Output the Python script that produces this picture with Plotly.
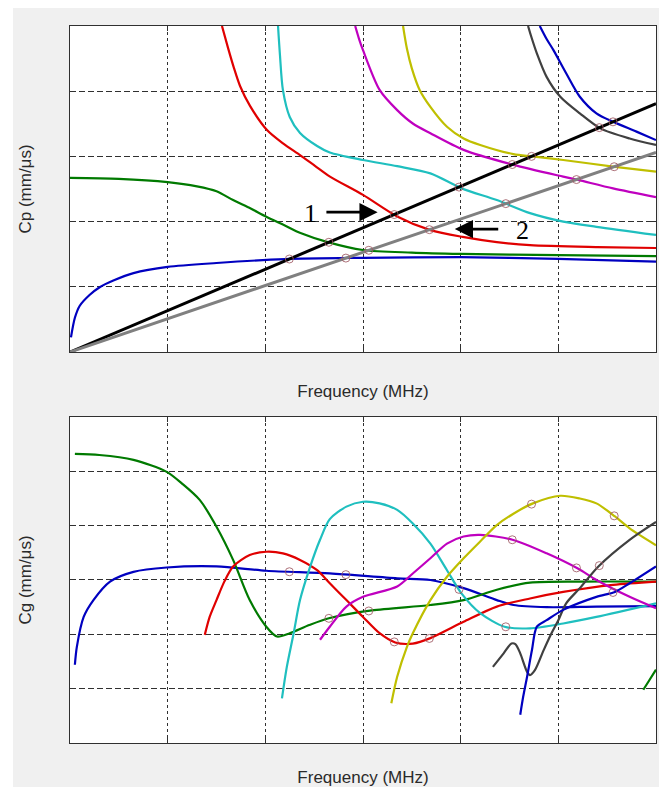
import numpy as np
import plotly.graph_objects as go

# ---------------------------------------------------------------------------
# Axis extents: frequency in MHz, velocities in mm/us
# ---------------------------------------------------------------------------
F_RANGE = [0.0, 6.0]
CP_RANGE = [0.0, 10.0]
CG_RANGE = [0.0, 6.0]

# Constant-wavelength lines, Cp = f * lambda (lambda in mm)
line_lambdas = [1.27, 1.02]
line_colors = ["#000000", "#808080"]

# ---------------------------------------------------------------------------
# Phase velocity branches (top panel)
# ---------------------------------------------------------------------------
m1_cp_f = [0.01, 0.05, 0.1, 0.2, 0.3, 0.45, 0.65, 1.0, 1.5, 2.2, 3.0, 4.0, 5.0, 6.0]
m1_cp = [0.45, 1.05, 1.42, 1.75, 1.98, 2.2, 2.42, 2.61, 2.73, 2.85, 2.89, 2.91, 2.86, 2.77]

m2_cp_f = [0.0, 0.5, 1.0, 1.3, 1.5, 1.67, 1.85, 2.01, 2.2, 2.36, 2.63, 3.0, 3.5, 4.0, 5.0, 6.0]
m2_cp = [5.34, 5.31, 5.21, 5.08, 4.93, 4.66, 4.40, 4.15, 3.88, 3.65, 3.38, 3.13, 3.05, 3.01, 2.97, 2.94]

m3_cp_f = [1.556, 1.618, 1.679, 1.741, 1.843, 2.017, 2.181, 2.355, 2.508, 2.662, 3.0, 3.35, 3.69, 4.02, 4.37, 4.71, 5.4, 6.0]
m3_cp = [10.0, 9.33, 8.71, 8.16, 7.55, 6.81, 6.40, 6.04, 5.71, 5.38, 4.82, 4.16, 3.74, 3.53, 3.37, 3.28, 3.22, 3.19]

m4_cp_f = [2.13, 2.15, 2.18, 2.25, 2.355, 2.53, 2.66, 3.0, 3.35, 3.69, 4.01, 4.37, 4.71, 5.05, 5.39, 6.0]
m4_cp = [10.0, 9.1, 8.04, 7.21, 6.72, 6.32, 6.12, 5.89, 5.70, 5.48, 5.02, 4.66, 4.26, 4.0, 3.84, 3.59]

m5_cp_f = [2.92, 2.96, 3.0, 3.17, 3.35, 3.51, 3.69, 4.03, 4.54, 5.05, 5.2, 5.56, 6.0]
m5_cp = [10.0, 9.6, 9.26, 8.04, 7.42, 7.01, 6.71, 6.20, 5.74, 5.38, 5.28, 5.02, 4.75]

m6_cp_f = [3.41, 3.45, 3.5, 3.58, 3.69, 3.86, 4.03, 4.2, 4.54, 4.73, 5.05, 5.58, 6.0]
m6_cp = [10.0, 9.3, 8.7, 8.04, 7.52, 6.91, 6.55, 6.35, 6.07, 6.0, 5.89, 5.68, 5.53]

m7_cp_f = [4.69, 4.72, 4.78, 4.88, 5.02, 5.22, 5.43, 5.73, 6.0]
m7_cp = [10.0, 9.7, 9.16, 8.44, 7.83, 7.32, 6.86, 6.55, 6.35]

m8_cp_f = [4.81, 4.88, 4.95, 5.08, 5.22, 5.39, 5.56, 5.8, 6.0]
m8_cp = [10.0, 9.6, 9.26, 8.55, 7.83, 7.32, 7.06, 6.76, 6.50]

# ---------------------------------------------------------------------------
# Group velocity branches (bottom panel)
# ---------------------------------------------------------------------------
m1_cg_f = [0.05, 0.07, 0.14, 0.24, 0.41, 0.65, 0.99, 1.5, 2.01, 2.66, 3.35, 3.69, 4.03, 4.37, 4.54, 4.88, 5.39, 6.0]
m1_cg = [1.44, 1.77, 2.32, 2.63, 2.97, 3.15, 3.23, 3.25, 3.17, 3.12, 3.03, 3.0, 2.85, 2.63, 2.54, 2.50, 2.51, 2.52]

m2_cg_f = [0.05, 0.3, 0.65, 0.99, 1.15, 1.33, 1.5, 1.67, 1.84, 2.01, 2.12, 2.25, 2.45, 2.66, 3.09, 3.69, 4.03, 4.37, 4.71, 5.22, 6.0]
m2_cg = [5.32, 5.30, 5.21, 4.99, 4.77, 4.47, 3.98, 3.37, 2.63, 2.14, 1.96, 2.02, 2.17, 2.30, 2.44, 2.54, 2.63, 2.82, 2.95, 2.97, 2.97]

m3_cg_f = [1.38, 1.43, 1.5, 1.58, 1.67, 1.84, 2.01, 2.18, 2.355, 2.53, 2.66, 2.83, 3.0, 3.17, 3.33, 3.51, 3.69, 4.03, 4.37, 4.71, 5.05, 5.56, 6.0]
m3_cg = [1.99, 2.32, 2.63, 2.97, 3.25, 3.46, 3.52, 3.49, 3.37, 3.18, 2.94, 2.63, 2.32, 2.02, 1.85, 1.83, 1.93, 2.23, 2.51, 2.66, 2.78, 2.91, 2.97]

m4_cg_f = [2.17, 2.22, 2.29, 2.355, 2.46, 2.56, 2.66, 2.83, 3.0, 3.17, 3.35, 3.51, 3.69, 3.86, 4.01, 4.2, 4.45, 4.71, 5.05, 5.39, 6.0]
m4_cg = [0.82, 1.40, 2.02, 2.63, 3.25, 3.74, 4.12, 4.35, 4.44, 4.41, 4.29, 4.04, 3.67, 3.18, 2.75, 2.39, 2.14, 2.11, 2.20, 2.32, 2.57]

m5_cg_f = [2.56, 2.66, 2.83, 3.0, 3.35, 3.51, 3.69, 3.86, 4.03, 4.2, 4.53, 4.88, 5.2, 5.39, 5.73, 6.0]
m5_cg = [1.90, 2.14, 2.51, 2.69, 2.88, 3.12, 3.40, 3.67, 3.80, 3.83, 3.74, 3.49, 3.21, 3.0, 2.69, 2.48]

m6_cg_f = [3.29, 3.35, 3.45, 3.51, 3.69, 3.86, 4.03, 4.2, 4.37, 4.54, 4.74, 5.02, 5.22, 5.39, 5.58, 5.73, 6.0]
m6_cg = [0.73, 1.22, 1.77, 2.02, 2.63, 3.06, 3.40, 3.71, 4.01, 4.22, 4.41, 4.55, 4.50, 4.41, 4.17, 3.95, 3.64]

m7_cg_f = [4.33, 4.44, 4.52, 4.56, 4.61, 4.68, 4.71, 4.76, 4.85, 4.93, 5.0, 5.08, 5.22, 5.41, 5.73, 6.0]
m7_cg = [1.40, 1.65, 1.83, 1.82, 1.65, 1.31, 1.25, 1.34, 1.71, 2.02, 2.26, 2.57, 2.85, 3.25, 3.74, 4.07]

m8_cg_f = [4.61, 4.64, 4.68, 4.73, 4.78, 4.88, 5.05, 5.39, 5.58, 5.73, 6.0]
m8_cg = [0.52, 0.85, 1.22, 1.71, 2.14, 2.26, 2.45, 2.69, 2.78, 2.94, 3.25]

m9_cg_f = [5.87, 5.93, 6.0]
m9_cg = [0.98, 1.15, 1.35]

modes = [
    dict(color="#0000c0", cp_f=m1_cp_f, cp=m1_cp, cg_f=m1_cg_f, cg=m1_cg),
    dict(color="#007a00", cp_f=m2_cp_f, cp=m2_cp, cg_f=m2_cg_f, cg=m2_cg),
    dict(color="#e00000", cp_f=m3_cp_f, cp=m3_cp, cg_f=m3_cg_f, cg=m3_cg),
    dict(color="#1fbfbf", cp_f=m4_cp_f, cp=m4_cp, cg_f=m4_cg_f, cg=m4_cg),
    dict(color="#bf00bf", cp_f=m5_cp_f, cp=m5_cp, cg_f=m5_cg_f, cg=m5_cg),
    dict(color="#bfbf00", cp_f=m6_cp_f, cp=m6_cp, cg_f=m6_cg_f, cg=m6_cg),
    dict(color="#404040", cp_f=m7_cp_f, cp=m7_cp, cg_f=m7_cg_f, cg=m7_cg),
    dict(color="#0000c0", cp_f=m8_cp_f, cp=m8_cp, cg_f=m8_cg_f, cg=m8_cg),
    dict(color="#007a00", cp_f=None, cp=None, cg_f=m9_cg_f, cg=m9_cg),
]

MARKER_COLOR = "rgba(160,90,100,0.85)"


def crossings(f, c, lam):
    """Frequencies where a piecewise-linear branch crosses Cp = lam * f."""
    f = np.asarray(f, float)
    d = np.asarray(c, float) - lam * f
    out = []
    for i in range(len(f) - 1):
        if d[i] == 0:
            out.append(f[i])
        elif d[i] * d[i + 1] < 0:
            out.append(f[i] + (f[i + 1] - f[i]) * d[i] / (d[i] - d[i + 1]))
    return out


fig = go.Figure()

# dispersion branches
curve_line = dict(width=2.2, shape="spline", smoothing=0.8)
for m in modes:
    if m["cp_f"] is not None:
        fig.add_trace(go.Scatter(x=m["cp_f"], y=m["cp"], mode="lines",
                                 line=dict(curve_line, color=m["color"]),
                                 xaxis="x", yaxis="y", hoverinfo="skip"))
    fig.add_trace(go.Scatter(x=m["cg_f"], y=m["cg"], mode="lines",
                             line=dict(curve_line, color=m["color"]),
                             xaxis="x2", yaxis="y2", hoverinfo="skip"))

# constant-wavelength lines
f_line = np.array(F_RANGE)
for lam, col in zip(line_lambdas, line_colors):
    fig.add_trace(go.Scatter(x=f_line, y=lam * f_line, mode="lines",
                             line=dict(color=col, width=3),
                             xaxis="x", yaxis="y", hoverinfo="skip"))

# intersection markers: phase velocity on top, group velocity below
mk_f, mk_cp, mk_cg = [], [], []
for m in modes:
    if m["cp_f"] is None:
        continue
    for lam in line_lambdas:
        for fr in crossings(m["cp_f"], m["cp"], lam):
            mk_f.append(fr)
            mk_cp.append(lam * fr)
            mk_cg.append(float(np.interp(fr, m["cg_f"], m["cg"])))

marker_style = dict(symbol="circle-open", size=8, color=MARKER_COLOR, line=dict(width=1, color=MARKER_COLOR))
fig.add_trace(go.Scatter(x=mk_f, y=mk_cp, mode="markers", marker=marker_style,
                         xaxis="x", yaxis="y", hoverinfo="skip"))
fig.add_trace(go.Scatter(x=mk_f, y=mk_cg, mode="markers", marker=marker_style,
                         xaxis="x2", yaxis="y2", hoverinfo="skip"))

axis_font = dict(family="Liberation Sans, Arial, sans-serif", size=17, color="#2a2a2a")
frame = dict(showline=True, linecolor="#303030", linewidth=1, mirror="ticks",
             ticks="inside", ticklen=5, tickcolor="#303030",
             showticklabels=False, zeroline=False, showgrid=True,
             gridcolor="#303030", gridwidth=1, automargin=False)

xcommon = dict(frame, range=F_RANGE, tick0=0, dtick=1, griddash="3px,3px")

fig.update_layout(
    width=659, height=787,
    margin=dict(l=70, r=3, t=26, b=44),
    paper_bgcolor="#f0f0f0",
    plot_bgcolor="#ffffff",
    showlegend=False,
    xaxis=dict(xcommon, anchor="y", domain=[0, 1],
               title=dict(text="Frequency (MHz)", font=axis_font, standoff=33)),
    yaxis=dict(frame, range=CP_RANGE, tick0=0, dtick=2, griddash="6px,3px",
               anchor="x", domain=[0.5453, 1.0],
               title=dict(text="Cp (mm/\u03bcs)", font=axis_font, standoff=33)),
    xaxis2=dict(xcommon, anchor="y2", domain=[0, 1],
                title=dict(text="Frequency (MHz)", font=axis_font, standoff=33)),
    yaxis2=dict(frame, range=CG_RANGE, tick0=0, dtick=1, griddash="6px,3px",
                anchor="x2", domain=[0.0, 0.4547],
                title=dict(text="Cg (mm/\u03bcs)", font=axis_font, standoff=33)),
)

# white page edge along the top and left
fig.add_shape(type="rect", xref="paper", yref="paper", x0=-0.2, x1=-0.0973, y0=-0.1, y1=1.1,
              fillcolor="#ffffff", line_width=0, layer="below")
fig.add_shape(type="rect", xref="paper", yref="paper", x0=-0.2, x1=1.1, y0=1.0251, y1=1.1,
              fillcolor="#ffffff", line_width=0, layer="below")

# line identifiers with arrows
label_font = dict(family="Liberation Serif, Times New Roman, serif", size=26, color="#000000")
label_text = ["1", "2"]
label_pos = [(2.46, 4.26), (4.63, 3.74)]
arrow_tail = [(2.61, 4.29), (4.40, 3.77)]
arrow_head = [(3.15, 4.29), (3.94, 3.77)]
for txt, (lx, ly), (tx, ty), (hx, hy) in zip(label_text, label_pos, arrow_tail, arrow_head):
    fig.add_annotation(x=lx, y=ly, xref="x", yref="y", text=txt, showarrow=False, font=label_font)
    fig.add_annotation(x=hx, y=hy, ax=tx, ay=ty, xref="x", yref="y", axref="x", ayref="y",
                       text="", showarrow=True, arrowhead=2, arrowsize=1.4, arrowwidth=2.6,
                       arrowcolor="#000000", standoff=0, startstandoff=0)

fig.write_html("out.html")
